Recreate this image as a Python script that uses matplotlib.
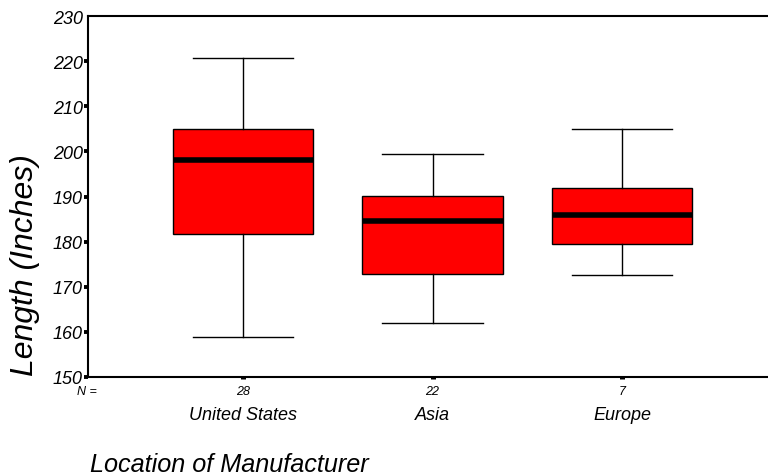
import matplotlib
matplotlib.use("Agg")
from matplotlib import pyplot as plt
from matplotlib import transforms

groups = ["United States", "Asia", "Europe"]
counts = [28, 22, 7]
whislo = [158.8, 161.9, 172.6]
q1 = [181.8, 172.8, 179.5]
med = [198.1, 184.6, 185.8]
q3 = [205.0, 190.1, 191.9]
whishi = [220.7, 199.5, 205.0]
yticks = [150, 160, 170, 180, 190, 200, 210, 220, 230]

plt.rcParams['font.family'] = ['Liberation Sans', 'DejaVu Sans']
plt.rcParams['font.style'] = 'italic'

fig = plt.figure(figsize=(7.68, 4.77), dpi=100)
ax = fig.add_axes([88 / 768, 1 - 378 / 477, 1 - 88 / 768, (378 - 17) / 477])

stats = []
for i in range(len(groups)):
    stats.append(dict(med=med[i], q1=q1[i], q3=q3[i], whislo=whislo[i],
                      whishi=whishi[i], fliers=[], label=groups[i]))

positions = range(1, len(groups) + 1)
ax.bxp(stats, positions=positions, widths=0.74, capwidths=0.53,
       patch_artist=True, showfliers=False,
       boxprops=dict(facecolor='#ff0000', edgecolor='black', linewidth=1),
       medianprops=dict(color='black', linewidth=4, solid_capstyle='butt'),
       whiskerprops=dict(color='black', linewidth=1),
       capprops=dict(color='black', linewidth=1))

ax.set_xlim(0.182, 3.77)
ax.set_ylim(150, 230)
ax.spines['right'].set_visible(False)
for s in ['left', 'bottom', 'top']:
    ax.spines[s].set_linewidth(1.5)

ax.set_yticks(yticks)
ax.set_yticklabels([str(v) for v in yticks], fontsize=13)
ax.tick_params(axis='y', direction='out', length=2.6, width=2.8, pad=1)
ax.yaxis.get_major_ticks()[-1].tick1line.set_visible(False)

ax.set_xticks(list(positions))
ax.set_xticklabels(groups, fontsize=13)
ax.tick_params(axis='x', direction='out', length=1.6, width=3.6, pad=19)

# N = row
trans = transforms.blended_transform_factory(ax.transData, fig.transFigure)
for p, n in zip(positions, counts):
    ax.text(p, 1 - 392 / 477, str(n), transform=trans, ha='center',
            va='center', fontsize=9)
fig.text(77 / 768, 1 - 392 / 477, "N =", ha='left', va='center', fontsize=9)

fig.text(25 / 768, 1 - 265 / 477, "Length (Inches)", rotation=90,
         ha='center', va='center', fontsize=23)
fig.text(90 / 768, 1 - 465 / 477, "Location of Manufacturer", ha='left',
         va='center', fontsize=18.2)

fig.savefig("out.png", dpi=100)
